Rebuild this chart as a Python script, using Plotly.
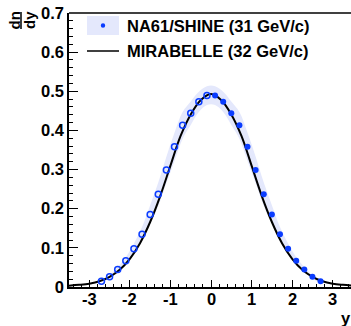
import plotly.graph_objects as go

# ---- data ----
rap_centers = [0.1, 0.3, 0.5, 0.7, 0.9, 1.1, 1.3, 1.5, 1.7, 1.9, 2.1, 2.3, 2.5, 2.7]
na61_dndy = [0.489, 0.473, 0.444, 0.413, 0.358, 0.299, 0.237, 0.185, 0.135, 0.098, 0.067, 0.045, 0.026, 0.015]
na61_sys = [0.024, 0.026, 0.030, 0.034, 0.036, 0.034, 0.030, 0.024, 0.018, 0.013, 0.009, 0.006, 0.004, 0.003]

mirabelle_y = [-3.5, -3.25, -3.0, -2.75, -2.5, -2.25, -2.0, -1.75, -1.5, -1.25, -1.0, -0.75, -0.5, -0.25,
               0.0, 0.25, 0.5, 0.75, 1.0, 1.25, 1.5, 1.75, 2.0, 2.25, 2.5, 2.75, 3.0, 3.25, 3.5]
mirabelle_dndy = [0.0035, 0.0055, 0.0085, 0.0145, 0.026, 0.044, 0.072, 0.112, 0.166, 0.233, 0.310, 0.386, 0.441, 0.478,
                  0.493, 0.478, 0.441, 0.386, 0.310, 0.233, 0.166, 0.112, 0.072, 0.044, 0.026, 0.0145, 0.0085, 0.0055, 0.0035]

x_ticks = [-3, -2, -1, 0, 1, 2, 3]
x_tick_labels = ["-3", "-2", "-1", "0", "1", "2", "3"]
y_ticks = [0, 0.1, 0.2, 0.3, 0.4, 0.5, 0.6, 0.7]

W, H = 351, 326
L, R, T, B = 69, 0, 13, 39
BLUE = "#0a3cff"
BAND = "#e4e8fc"
FONT = "Liberation Sans"

def px(xp):
    return (xp - L) / (W - L - R)

def py(yp):
    return (H - B - yp) / (H - T - B)

# reflected (open) points
neg_x = [-v for v in rap_centers]

# band over full range (reflected + measured)
band_x = neg_x[::-1] + rap_centers
band_mid = na61_dndy[::-1] + na61_dndy
band_err = na61_sys[::-1] + na61_sys
upper = [m + e for m, e in zip(band_mid, band_err)]
lower = [m - e for m, e in zip(band_mid, band_err)]

fig = go.Figure()
fig.add_trace(go.Scatter(x=band_x + band_x[::-1], y=upper + lower[::-1], fill="toself",
                         fillcolor=BAND, line=dict(width=0), mode="lines", hoverinfo="skip",
                         line_shape="spline"))
fig.add_trace(go.Scatter(x=mirabelle_y, y=mirabelle_dndy, mode="lines",
                         line=dict(color="black", width=2, shape="spline")))
fig.add_trace(go.Scatter(x=neg_x, y=na61_dndy, mode="markers",
                         marker=dict(symbol="circle-open", size=6, color=BLUE, line=dict(width=1.5, color=BLUE))))
fig.add_trace(go.Scatter(x=rap_centers, y=na61_dndy, mode="markers",
                         marker=dict(symbol="circle", size=6, color=BLUE)))

tickfont = dict(family=FONT, size=16.5, color="black", weight="bold")

fig.update_xaxes(range=[-3.5, 3.45], tickvals=x_ticks, ticks="inside", ticklen=7, tickwidth=1,
                 tickcolor="black", showline=True, linecolor="black", linewidth=1.5,
                 showgrid=False, zeroline=False, showticklabels=False,
                 minor=dict(ticks="inside", dtick=0.2, ticklen=3.5, tickcolor="black", showgrid=False))
fig.update_yaxes(range=[0, 0.7], tickvals=y_ticks, ticks="inside", ticklen=9, tickwidth=1,
                 tickcolor="black", showline=True, linecolor="black", linewidth=1.5,
                 showgrid=False, zeroline=False, tickfont=tickfont,
                 minor=dict(ticks="inside", dtick=0.02, ticklen=4.5, tickcolor="black", showgrid=False))

shapes = [
    # top frame line
    dict(type="line", xref="paper", yref="paper", x0=0, x1=1, y0=1, y1=1, line=dict(color="black", width=1.5)),
    # legend band swatch
    dict(type="rect", xref="paper", yref="paper", x0=px(87), x1=px(119), y0=py(35), y1=py(16),
         fillcolor=BAND, line=dict(width=0)),
    dict(type="circle", xref="paper", yref="paper", x0=px(100.8), x1=px(105.2), y0=py(27.7), y1=py(23.3),
         fillcolor=BLUE, line=dict(width=0)),
    # legend line swatch
    dict(type="line", xref="paper", yref="paper", x0=px(87), x1=px(119), y0=py(51), y1=py(51),
         line=dict(color="black", width=1.5)),
    # y title fraction bar
    dict(type="line", xref="paper", yref="paper", x0=px(21), x1=px(21), y0=py(12), y1=py(29),
         line=dict(color="black", width=1.5)),
]

lfont = dict(family=FONT, size=16.5, color="black", weight="bold")
yfont = dict(family=FONT, size=15, color="black", weight="bold")
annotations = [
    dict(text="NA61/SHINE (31 GeV/c)", x=px(125), y=py(25.5), xref="paper", yref="paper",
         xanchor="left", yanchor="middle", showarrow=False, font=lfont),
    dict(text="MIRABELLE (32 GeV/c)", x=px(125), y=py(51), xref="paper", yref="paper",
         xanchor="left", yanchor="middle", showarrow=False, font=lfont),
    dict(text="y", x=px(346), y=py(318), xref="paper", yref="paper",
         xanchor="center", yanchor="middle", showarrow=False, font=lfont),
    dict(text="dn", x=px(14), y=py(20.5), xref="paper", yref="paper", textangle=-90,
         xanchor="center", yanchor="middle", showarrow=False, font=yfont),
    dict(text="dy", x=px(29.5), y=py(20.5), xref="paper", yref="paper", textangle=-90,
         xanchor="center", yanchor="middle", showarrow=False, font=yfont),
]
for tv, tl in zip(x_ticks, x_tick_labels):
    annotations.append(dict(text=tl, x=tv, y=py(298.5), xref="x", yref="paper",
                            xanchor="center", yanchor="middle", showarrow=False, font=tickfont))

fig.update_layout(width=W, height=H, margin=dict(l=L, r=R, t=T, b=B),
                  plot_bgcolor="white", paper_bgcolor="white", showlegend=False,
                  shapes=shapes, annotations=annotations)

fig.write_html("out.html")
